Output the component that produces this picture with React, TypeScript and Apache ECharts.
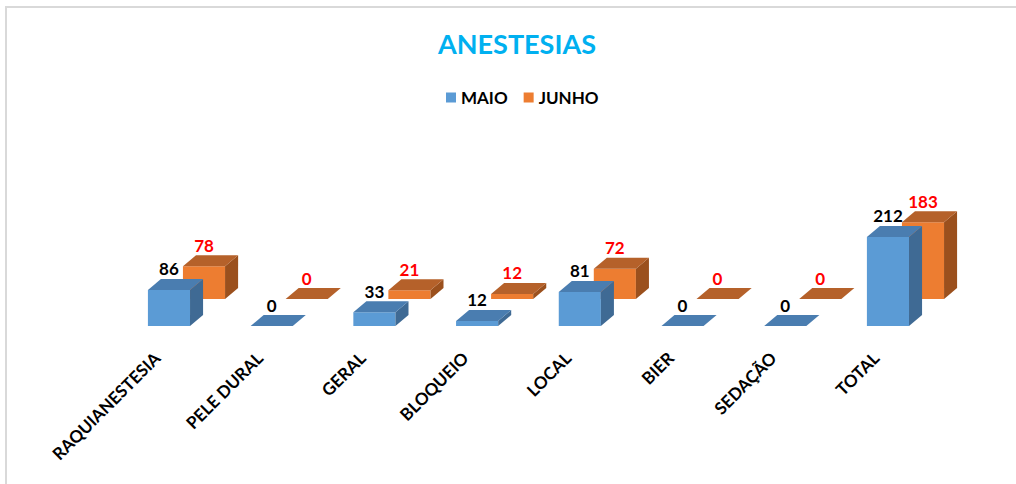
import React, { useEffect, useRef } from "react";
import * as echarts from "echarts";

const categories = ["RAQUIANESTESIA", "PELE DURAL", "GERAL", "BLOQUEIO", "LOCAL", "BIER", "SEDAÇÃO", "TOTAL"];
const maio = [86, 0, 33, 12, 81, 0, 0, 212];
const junho = [78, 0, 21, 12, 72, 0, 0, 183];
const seriesNames = ["MAIO", "JUNHO"];

const FONT = "Lato, 'Open Sans', sans-serif";

type Look = { front: string; top: string; side: string; label: string; shiftX: number; shiftY: number };

const looks: Look[] = [
  { front: "#5b9bd5", top: "#4a7db0", side: "#3f6a94", label: "#000000", shiftX: -0.088, shiftY: 0 },
  { front: "#ed7d31", top: "#b5612a", side: "#9b501d", label: "#ff0000", shiftX: 0.253, shiftY: -27 },
];

function makeRender(look: Look) {
  return (params: any, api: any) => {
    const idx = api.value(0);
    const val = api.value(1);
    const base = api.coord([idx, 0]);
    const top = api.coord([idx, val]);
    const bw = api.size([1, 0])[0];
    const w = bw * 0.41;
    const dx = bw * 0.127;
    const dy = -11;
    const x0 = base[0] + bw * look.shiftX;
    const x1 = x0 + w;
    const yB = base[1] + look.shiftY;
    const yT = top[1] + look.shiftY;
    const children: any[] = [];
    if (yB - yT > 0.5) {
      children.push({
        type: "rect",
        shape: { x: x0, y: yT, width: w, height: yB - yT },
        style: { fill: look.front },
      });
      children.push({
        type: "polygon",
        shape: { points: [[x1, yT], [x1, yB], [x1 + dx, yB + dy], [x1 + dx, yT + dy]] },
        style: { fill: look.side },
      });
    }
    children.push({
      type: "polygon",
      shape: { points: [[x0, yT], [x1, yT], [x1 + dx, yT + dy], [x0 + dx, yT + dy]] },
      style: { fill: look.top },
    });
    children.push({
      type: "text",
      style: {
        text: String(val),
        x: (x0 + x1) / 2,
        y: yT + dy - 10,
        align: "center",
        verticalAlign: "middle",
        font: `bold 17px ${FONT}`,
        fill: look.label,
      },
    });
    return { type: "group", children };
  };
}

export default function App() {
  const ref = useRef<HTMLDivElement>(null);
  useEffect(() => {
    if (!ref.current) return;
    const chart = echarts.init(ref.current, undefined, { renderer: "svg" });
    const option: any = {
      animation: false,
      backgroundColor: "#ffffff",
      title: {
        text: "ANESTESIAS",
        left: 512,
        top: 25,
        textAlign: "center",
        textStyle: { color: "#00b0f0", fontSize: 27, fontWeight: "bold", fontFamily: FONT },
      },
      legend: {
        data: seriesNames,
        left: 441,
        top: 84,
        itemWidth: 10,
        itemHeight: 10,
        itemGap: 16,
        icon: "rect",
        textStyle: { color: "#000", fontSize: 17, fontWeight: "bold", fontFamily: FONT },
      },
      grid: { left: 105.6, right: 88.7, top: 116, bottom: 158 },
      xAxis: {
        type: "category",
        data: categories,
        axisLine: { show: false },
        axisTick: { show: false },
        splitLine: { show: false },
        axisLabel: {
          interval: 0,
          rotate: 45,
          margin: 29,
          color: "#000",
          fontSize: 17,
          fontWeight: "bold",
          fontFamily: FONT,
        },
      },
      yAxis: { type: "value", min: 0, max: 500, show: false, splitLine: { show: false } },
      graphic: [
        { type: "rect", shape: { x: 5, y: 6, width: 2, height: 480 }, style: { fill: "#d9d9d9" }, silent: true },
        { type: "rect", shape: { x: 5, y: 6, width: 1015, height: 2 }, style: { fill: "#d9d9d9" }, silent: true },
      ],
      series: [
        {
          name: "JUNHO",
          type: "custom",
          z: 1,
          itemStyle: { color: looks[1].front },
          renderItem: makeRender(looks[1]),
          data: junho.map((v, i) => [i, v]),
          encode: { x: 0, y: 1 },
        },
        {
          name: "MAIO",
          type: "custom",
          z: 2,
          itemStyle: { color: looks[0].front },
          renderItem: makeRender(looks[0]),
          data: maio.map((v, i) => [i, v]),
          encode: { x: 0, y: 1 },
        },
      ],
    };
    chart.setOption(option);
    return () => chart.dispose();
  }, []);
  return (
    <div
      ref={ref}
      style={{ position: "fixed", left: 0, top: 0, width: 1016, height: 484, background: "#fff" }}
    />
  );
}
